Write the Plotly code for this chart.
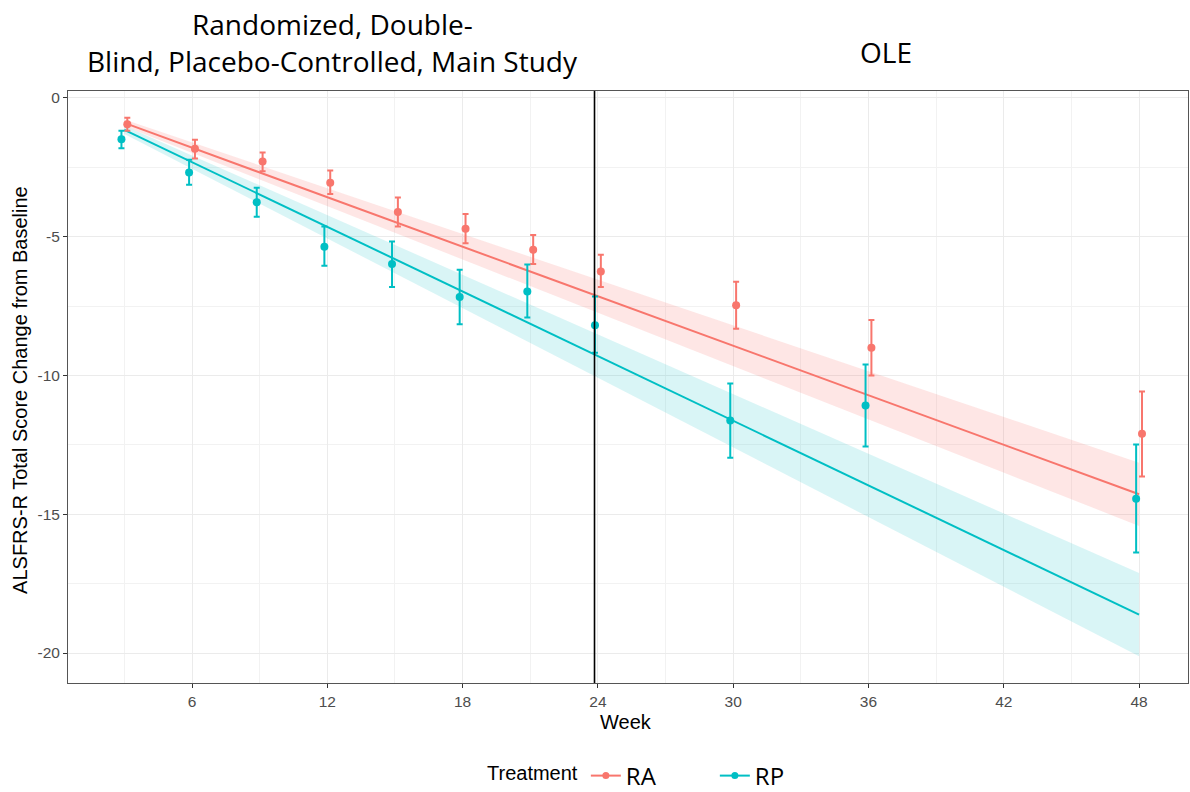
import plotly.graph_objects as go

# ---------------- data ----------------
weeks = [3, 6, 9, 12, 15, 18, 21, 24, 30, 36, 48]
RA_mean = [-0.95, -1.83, -2.29, -3.06, -4.11, -4.71, -5.47, -6.25, -7.47, -9.00, -12.10]
RA_upper = [-0.71, -1.51, -1.97, -2.61, -3.59, -4.18, -4.94, -5.65, -6.62, -8.00, -10.58]
RA_lower = [-1.18, -2.18, -2.64, -3.46, -4.63, -5.24, -5.98, -6.81, -8.32, -10.00, -13.64]
RP_mean = [-1.49, -2.69, -3.76, -5.36, -5.98, -7.17, -6.97, -8.19, -11.62, -11.08, -14.44]
RP_upper = [-1.18, -2.23, -3.24, -4.63, -5.17, -6.19, -6.00, -7.15, -10.29, -9.60, -12.49]
RP_lower = [-1.81, -3.13, -4.28, -6.05, -6.81, -8.15, -7.91, -9.18, -12.96, -12.56, -16.38]

fit_weeks = [3, 24, 48]
RA_fit = [-0.90, -7.14, -14.28]
RA_fit_lo = [-1.02, -7.74, -15.42]
RA_fit_hi = [-0.78, -6.54, -13.14]
RP_fit = [-1.15, -9.30, -18.62]
RP_fit_lo = [-1.30, -10.08, -20.12]
RP_fit_hi = [-1.00, -8.52, -17.12]

x_ticks = [6, 12, 18, 24, 30, 36, 42, 48]
y_ticks = [-20, -15, -10, -5, 0]
y_ticklabels = ["-20", "-15", "-10", "-5", "0"]
divider_week = 23.85

treatments = ["RA", "RP"]
title_lines = ["Randomized, Double-", "Blind, Placebo-Controlled, Main Study"]
ole_label = "OLE"

# ---------------- style ----------------
colors = {"RA": "#F8766D", "RP": "#00BFC4"}
fills = {"RA": "rgba(248,118,109,0.18)", "RP": "rgba(0,191,196,0.15)"}
dodge = {"RA": 0.13, "RP": -0.13}

series = {
    "RA": (RA_mean, RA_upper, RA_lower, RA_fit, RA_fit_lo, RA_fit_hi),
    "RP": (RP_mean, RP_upper, RP_lower, RP_fit, RP_fit_lo, RP_fit_hi),
}

fig = go.Figure()

for t in treatments:
    mean, up, lo, fit, flo, fhi = series[t]
    fig.add_trace(go.Scatter(
        x=fit_weeks + fit_weeks[::-1], y=fhi + flo[::-1],
        fill="toself", fillcolor=fills[t], line=dict(width=0),
        mode="lines", hoverinfo="skip", showlegend=False))
for t in treatments:
    mean, up, lo, fit, flo, fhi = series[t]
    fig.add_trace(go.Scatter(
        x=fit_weeks, y=fit, mode="lines",
        line=dict(color=colors[t], width=2), showlegend=False))
for t in treatments:
    mean, up, lo, fit, flo, fhi = series[t]
    fig.add_trace(go.Scatter(
        x=[w + dodge[t] for w in weeks], y=mean, mode="markers",
        marker=dict(color=colors[t], size=8),
        error_y=dict(type="data", symmetric=False,
                     array=[u - m for u, m in zip(up, mean)],
                     arrayminus=[m - l for m, l in zip(mean, lo)],
                     color=colors[t], thickness=2, width=3),
        showlegend=False))
# legend entries
for t in treatments:
    fig.add_trace(go.Scatter(
        x=[None], y=[None], mode="lines+markers", name=t,
        line=dict(color=colors[t], width=2),
        marker=dict(color=colors[t], size=7)))

fig.add_shape(type="line", xref="x", yref="paper", x0=divider_week, x1=divider_week,
              y0=0, y1=1, line=dict(color="black", width=1.6))

axis_common = dict(showline=True, mirror=True, linecolor="#555555", linewidth=1,
                   ticks="outside", ticklen=4, tickcolor="#333333", automargin=False,
                   tickfont=dict(family="Liberation Sans, Arial", size=15.5, color="#4D4D4D"),
                   gridcolor="#EBEBEB", gridwidth=1.2, zeroline=False)

fig.update_xaxes(range=[0.50, 50.17], tickvals=x_ticks,
                 minor=dict(dtick=3, tick0=0, showgrid=True, gridcolor="#F2F2F2", gridwidth=0.8),
                 **axis_common)
fig.update_yaxes(range=[-21.08, 0.25], tickvals=y_ticks, ticktext=y_ticklabels,
                 minor=dict(dtick=2.5, tick0=0, showgrid=True, gridcolor="#F2F2F2", gridwidth=0.8),
                 **axis_common)

title_font = dict(family="Open Sans, sans-serif", size=28, color="black")
fig.add_annotation(text=title_lines[0], xref="paper", yref="paper", x=0.2362, y=1.1125,
                   xanchor="center", yanchor="middle", showarrow=False, font=title_font)
fig.add_annotation(text=title_lines[1], xref="paper", yref="paper", x=0.2362, y=1.0505,
                   xanchor="center", yanchor="middle", showarrow=False, font=title_font)
fig.add_annotation(text=ole_label, xref="paper", yref="paper", x=0.7306, y=1.0666,
                   xanchor="center", yanchor="middle", showarrow=False, font=title_font)
fig.add_annotation(text="Week", xref="paper", yref="paper", x=0.4985, y=-0.066,
                   xanchor="center", yanchor="middle", showarrow=False,
                   font=dict(family="Liberation Sans, Arial", size=20, color="black"))
fig.add_annotation(text="ALSFRS-R Total Score Change from Baseline", xref="paper", yref="paper",
                   x=-0.0429, y=0.495, xanchor="center", yanchor="middle", textangle=-90,
                   showarrow=False,
                   font=dict(family="Liberation Sans, Arial", size=20, color="black"))

fig.update_layout(
    width=1190, height=792, autosize=False,
    margin=dict(l=68, r=2, t=91, b=109),
    paper_bgcolor="white", plot_bgcolor="white",
    showlegend=True,
    legend=dict(orientation="h", xref="container", yref="container",
                x=485 / 1190, y=1 - 776 / 792, xanchor="left", yanchor="middle",
                title=dict(text="Treatment", side="left",
                           font=dict(family="Liberation Sans, Arial", size=20, color="black")),
                font=dict(family="Open Sans, sans-serif", size=24, color="black"),
                itemwidth=30, entrywidth=84, bgcolor="rgba(0,0,0,0)"),
)

fig.write_html("out.html", config={"displayModeBar": False},
               post_script="document.body.style.margin='0px';")
